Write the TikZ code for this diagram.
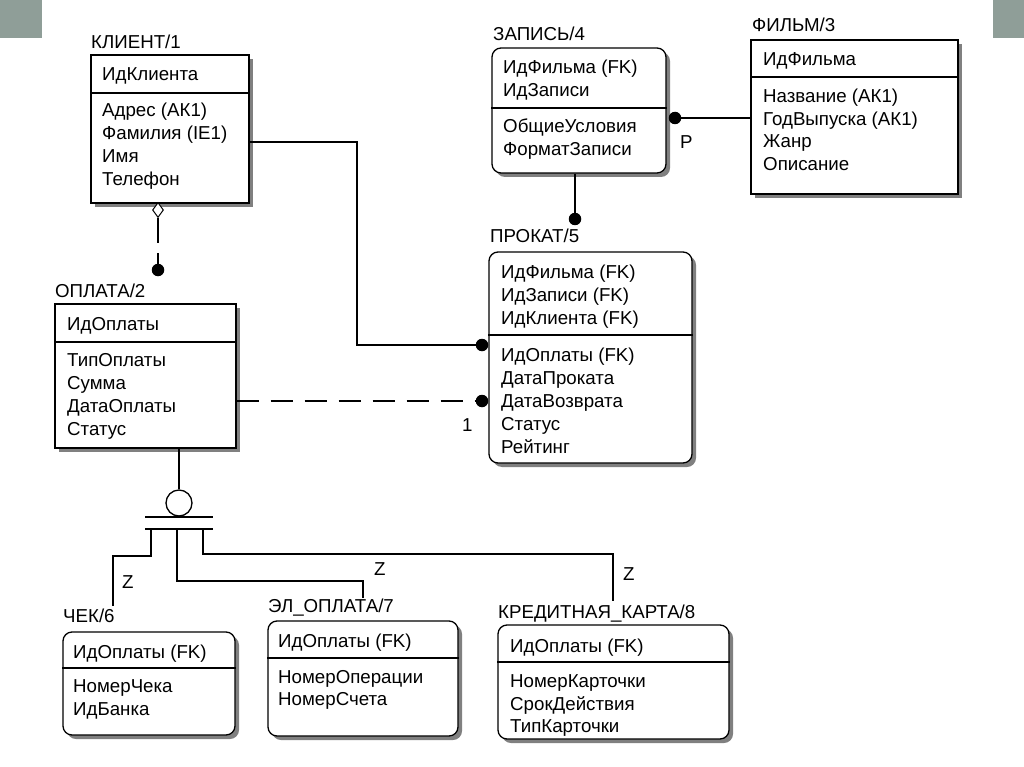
\documentclass[tikz,border=0pt]{standalone}
\usepackage{fontspec}
\setmainfont{Liberation Sans}
\usetikzlibrary{fit,shadows,shapes.geometric}
\definecolor{cornergray}{RGB}{143,158,152}
\newcommand\entfont{\fontsize{18.7}{22}\selectfont}
\tikzset{
  ent/.style={draw, line width=1.3pt, fill=white, inner sep=0pt,
    drop shadow={shadow xshift=4pt, shadow yshift=-4pt, fill=black!50, opacity=1}},
  dep/.style={ent, rounded corners=9pt},
  lbl/.style={anchor=base west, inner sep=0pt, font=\entfont},
  dot/.style={circle, fill, inner sep=0pt, minimum size=12.5pt},
  rel/.style={line width=1.3pt},
  nonid/.style={rel, dash pattern=on 22pt off 12pt},
}
\begin{document}
\begin{tikzpicture}[x=1pt,y=-1pt]
\useasboundingbox (0,0) rectangle (1024,767);
\fill[white] (0,0) rectangle (1024,767);
\fill[cornergray] (0,0) rectangle (42,38);
\fill[cornergray] (993,0) rectangle (1024,38);

% ---------- entity boxes ----------
\node[ent, fit={(91,55) (249,203)}] (klient) {};
\node[dep, fit={(492,48) (666,173)}] (zapis) {};
\node[ent, fit={(751,40) (958,194)}] (film) {};
\node[dep, fit={(489,252) (692,463)}] (prokat) {};
\node[ent, fit={(55,304) (236,448)}] (oplata) {};
\node[dep, fit={(63,632) (235,735)}] (chek) {};
\node[dep, fit={(268,621) (458,736)}] (elopl) {};
\node[dep, fit={(498,625) (729,739)}] (kredit) {};

% dividers
\draw[rel] (klient.west |- 0,93) -- (klient.east |- 0,93);
\draw[rel] (zapis.west |- 0,108) -- (zapis.east |- 0,108);
\draw[rel] (film.west |- 0,77) -- (film.east |- 0,77);
\draw[rel] (prokat.west |- 0,335) -- (prokat.east |- 0,335);
\draw[rel] (oplata.west |- 0,342) -- (oplata.east |- 0,342);
\draw[rel] (chek.west |- 0,668) -- (chek.east |- 0,668);
\draw[rel] (elopl.west |- 0,658) -- (elopl.east |- 0,658);
\draw[rel] (kredit.west |- 0,662) -- (kredit.east |- 0,662);

% ---------- titles ----------
\node[lbl] (tklient) at (91,49) {КЛИЕНТ/1};
\node[lbl] (tzapis) at (493,41) {ЗАПИСЬ/4};
\node[lbl] (tfilm) at (752,32) {ФИЛЬМ/3};
\node[lbl] (tprokat) at (490,243) {ПРОКАТ/5};
\node[lbl] (toplata) at (55,297) {ОПЛАТА/2};
\node[lbl] (tchek) at (63,622) {ЧЕК/6};
\node[lbl] (telopl) at (268,612) {ЭЛ\_ОПЛАТА/7};
\node[lbl] (tkredit) at (498,618) {КРЕДИТНАЯ\_КАРТА/8};

% ---------- attributes ----------
\node[lbl] (k1) at (102,81) {ИдКлиента};
\node[lbl] (k2) at (102,117) {Адрес (АК1)};
\node[lbl] (k3) at (102,140) {Фамилия (IE1)};
\node[lbl] (k4) at (102,163) {Имя};
\node[lbl] (k5) at (102,186) {Телефон};

\node[lbl] (z1) at (503,74) {ИдФильма (FK)};
\node[lbl] (z2) at (503,97) {ИдЗаписи};
\node[lbl] (z3) at (503,133) {ОбщиеУсловия};
\node[lbl] (z4) at (503,156) {ФорматЗаписи};

\node[lbl] (f1) at (763,66) {ИдФильма};
\node[lbl] (f2) at (763,103) {Название (АК1)};
\node[lbl] (f3) at (763,126) {ГодВыпуска (АК1)};
\node[lbl] (f4) at (763,148) {Жанр};
\node[lbl] (f5) at (763,171) {Описание};

\node[lbl] (p1) at (501,278) {ИдФильма (FK)};
\node[lbl] (p2) at (501,301) {ИдЗаписи (FK)};
\node[lbl] (p3) at (501,324) {ИдКлиента (FK)};
\node[lbl] (p4) at (501,361) {ИдОплаты (FK)};
\node[lbl] (p5) at (501,384) {ДатаПроката};
\node[lbl] (p6) at (501,407) {ДатаВозврата};
\node[lbl] (p7) at (501,430) {Статус};
\node[lbl] (p8) at (501,453) {Рейтинг};

\node[lbl] (o1) at (67,330) {ИдОплаты};
\node[lbl] (o2) at (67,366) {ТипОплаты};
\node[lbl] (o3) at (67,389) {Сумма};
\node[lbl] (o4) at (67,412) {ДатаОплаты};
\node[lbl] (o5) at (67,435) {Статус};

\node[lbl] (c1) at (73,658) {ИдОплаты (FK)};
\node[lbl] (c2) at (73,692) {НомерЧека};
\node[lbl] (c3) at (73,715) {ИдБанка};

\node[lbl] (e1) at (278,647) {ИдОплаты (FK)};
\node[lbl] (e2) at (278,683) {НомерОперации};
\node[lbl] (e3) at (278,705) {НомерСчета};

\node[lbl] (r1) at (510,652) {ИдОплаты (FK)};
\node[lbl] (r2) at (510,687) {НомерКарточки};
\node[lbl] (r3) at (510,710) {СрокДействия};
\node[lbl] (r4) at (510,732) {ТипКарточки};

% ---------- relationships ----------
\node[dot] (dzf) at (675,118) {};
\draw[rel] (dzf) -- (film.west |- dzf);
\node[lbl] (lp) at (680,149) {P};

\node[dot] (dzp) at (575,219) {};
\draw[rel] (zapis.south -| dzp) -- (dzp);

\node[dot] (dkp) at (482,345) {};
\draw[rel] (klient.east |- 0,142) -| (357,345) -- (dkp);

\node[dot] (dop) at (482,401) {};
\draw[nonid] (oplata.east |- dop) -- (dop);
\node[lbl] (l1) at (462,431) {1};

\node[diamond, draw, fill=white, line width=1pt, inner sep=0pt,
      minimum width=11pt, minimum height=15pt] (dia) at (158,210) {};
\node[dot] (dko) at (158,270) {};
\draw[rel, dash pattern=on 25pt off 10pt] (dia.south) -- (dko);

% ---------- subtype cluster ----------
\node[circle, draw, line width=1.3pt, inner sep=0pt, minimum size=26pt] (cat) at (179,503) {};
\draw[rel] (oplata.south -| cat) -- (cat.north);
\coordinate (bar1l) at (145,517); \coordinate (bar1r) at (213,517);
\coordinate (bar2l) at (145,529); \coordinate (bar2r) at (213,529);
\draw[rel] (bar1l) -- (bar1r);
\draw[rel] (bar2l) -- (bar2r);
\coordinate (s1) at (151,529);
\coordinate (s2) at (177,529);
\coordinate (s3) at (203,529);
\coordinate (e1end) at (113,606);
\coordinate (e2end) at (363,598);
\coordinate (e3end) at (613,601);
\draw[rel] (s1) |- (e1end |- 0,556) -- (e1end);
\draw[rel] (s2) |- (e2end |- 0,581) -- (e2end);
\draw[rel] (s3) |- (e3end |- 0,554) -- (e3end);
\node[lbl] (z1l) at (122,588) {Z};
\node[lbl] (z2l) at (374,575) {Z};
\node[lbl] (z3l) at (623,580) {Z};
\end{tikzpicture}
\end{document}
